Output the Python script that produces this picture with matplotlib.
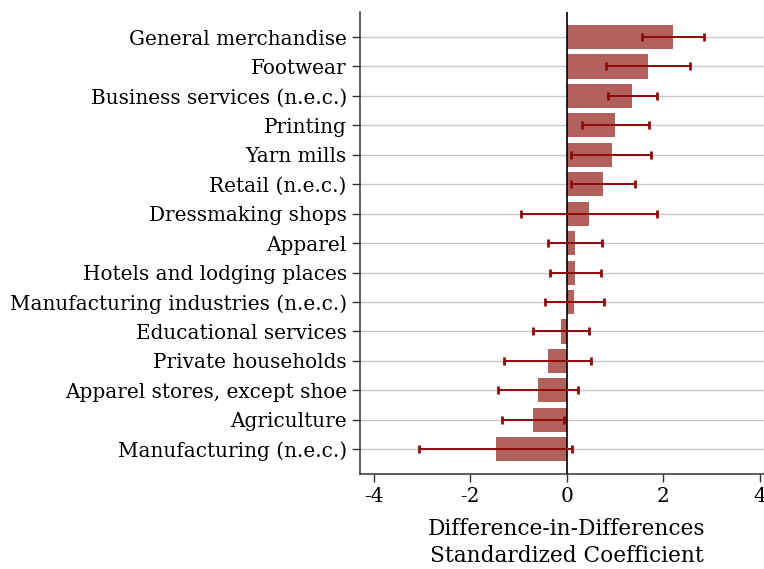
import matplotlib
matplotlib.use("Agg")
import matplotlib.pyplot as plt
import numpy as np

industries = [
    "General merchandise",
    "Footwear",
    "Business services (n.e.c.)",
    "Printing",
    "Yarn mills",
    "Retail (n.e.c.)",
    "Dressmaking shops",
    "Apparel",
    "Hotels and lodging places",
    "Manufacturing industries (n.e.c.)",
    "Educational services",
    "Private households",
    "Apparel stores, except shoe",
    "Agriculture",
    "Manufacturing (n.e.c.)",
]
coef = [2.21, 1.69, 1.36, 1.01, 0.93, 0.76, 0.47, 0.18, 0.18, 0.16,
        -0.12, -0.39, -0.60, -0.70, -1.47]
ci_low = [1.56, 0.82, 0.86, 0.32, 0.08, 0.09, -0.94, -0.38, -0.34, -0.44,
          -0.70, -1.30, -1.43, -1.33, -3.06]
ci_high = [2.84, 2.56, 1.86, 1.70, 1.75, 1.41, 1.86, 0.74, 0.70, 0.77,
           0.47, 0.50, 0.23, -0.06, 0.11]

plt.rcParams['font.family'] = ['DejaVu Serif']

fig = plt.figure(figsize=(7.64, 5.69), dpi=100)
ax = fig.add_axes([360 / 764, 94.7 / 569, 413.4 / 764, 462.3 / 569])

y = np.arange(len(industries))
ax.grid(axis='y', color='#c8c8c8', linewidth=1.0, zorder=0)
ax.barh(y, coef, height=0.82, color='#b2605c', zorder=2)
ax.axvline(0, color='black', linewidth=1.2, zorder=3)
lo = np.array(coef) - np.array(ci_low)
hi = np.array(ci_high) - np.array(coef)
ax.errorbar(coef, y, xerr=[lo, hi], fmt='none', ecolor='#8c0a0a',
            elinewidth=1.4, capsize=3, capthick=2, zorder=4)

ax.set_yticks(y)
ax.set_yticklabels(industries, fontsize=14.4)
ax.set_ylim(14.85, -0.85)
ax.set_xlim(-4.28, 4.28)
ax.set_xticks([-4, -2, 0, 2, 4])
ax.set_xticklabels(['-4', '-2', '0', '2', '4'], fontsize=14.4)
ax.tick_params(axis='both', direction='out', length=6, width=1, color='#333333')
ax.set_xlabel("Difference-in-Differences\nStandardized Coefficient",
              fontsize=15.6, linespacing=1.3, labelpad=8)

for s in ['top', 'right']:
    ax.spines[s].set_visible(False)
for s in ['left', 'bottom']:
    ax.spines[s].set_color('#333333')
    ax.spines[s].set_linewidth(1.1)

fig.savefig("out.png", dpi=100)
